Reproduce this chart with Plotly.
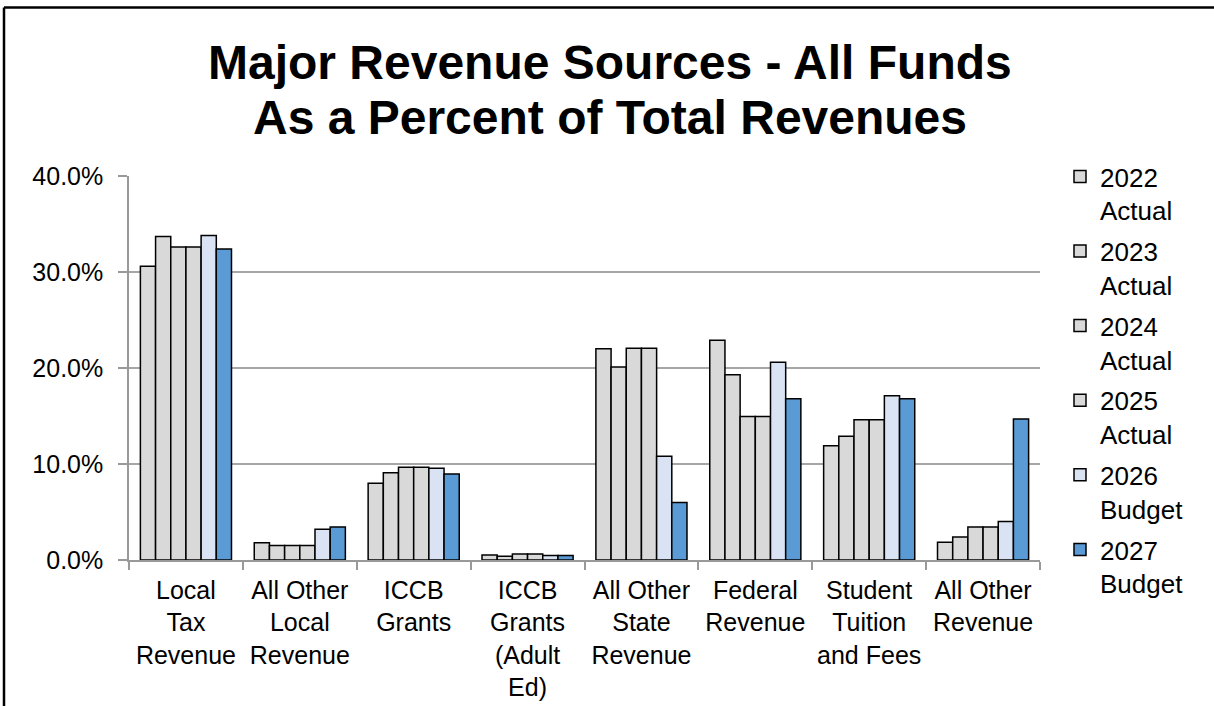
import plotly.graph_objects as go

categories = ["Local<br>Tax<br>Revenue", "All Other<br>Local<br>Revenue", "ICCB<br>Grants",
              "ICCB<br>Grants<br>(Adult<br>Ed)", "All Other<br>State<br>Revenue", "Federal<br>Revenue",
              "Student<br>Tuition<br>and Fees", "All Other<br>Revenue"]

series_names = ["2022<br>Actual", "2023<br>Actual", "2024<br>Actual", "2025<br>Actual",
                "2026<br>Budget", "2027<br>Budget"]

v2022 = [30.6, 1.8, 8.0, 0.52, 22.0, 22.9, 11.9, 1.85]
v2023 = [33.7, 1.5, 9.1, 0.4, 20.1, 19.3, 12.9, 2.4]
v2024 = [32.6, 1.5, 9.65, 0.62, 22.05, 14.95, 14.6, 3.45]
v2025 = [32.6, 1.5, 9.65, 0.62, 22.05, 14.95, 14.6, 3.45]
v2026 = [33.8, 3.2, 9.55, 0.48, 10.8, 20.6, 17.1, 4.0]
v2027 = [32.4, 3.45, 8.95, 0.48, 6.0, 16.8, 16.8, 14.7]

series_values = [v2022, v2023, v2024, v2025, v2026, v2027]
colors = ["#D9D9D9", "#D9D9D9", "#D9D9D9", "#D9D9D9", "#DAE3F3", "#5B9BD5"]

W, H = 1214, 706
L, R, T, B = 129, 1040, 176, 560

fig = go.Figure()
for i, (name, vals) in enumerate(zip(series_names, series_values)):
    fig.add_trace(go.Bar(
        x=categories, y=vals, name=name, legendgroup=str(i),
        marker=dict(color=colors[i], line=dict(color="black", width=1.5)),
    ))

def px_x(p):
    return (p - L) / (R - L)

def px_y(p):
    return (B - p) / (B - T)

font = "Arial, Liberation Sans, sans-serif"

fig.update_layout(
    width=W, height=H,
    margin=dict(l=L, r=W - R, t=T, b=H - B, autoexpand=False),
    paper_bgcolor="white", plot_bgcolor="white",
    barmode="group", bargap=0.2, bargroupgap=0,
    font=dict(family=font, size=25, color="black"),
    showlegend=True,
    legend=dict(x=px_x(1060), y=px_y(153), xanchor="left", yanchor="top",
                font=dict(size=26), valign="top", tracegroupgap=4,
                itemwidth=30, bgcolor="rgba(0,0,0,0)", maxheight=620),
    xaxis=dict(showline=True, linecolor="#999999", linewidth=1.5,
               ticks="outside", tickson="boundaries", ticklen=8, tickcolor="#999999",
               tickwidth=1.5, tickfont=dict(size=25), tickangle=0, showgrid=False,
               ticklabelstandoff=7),
    yaxis=dict(range=[0, 40], dtick=10, tickformat=".1f", ticksuffix="%",
               showline=True, linecolor="#999999", linewidth=1.5,
               ticks="outside", ticklen=9, tickcolor="#999999", tickwidth=1.5,
               showgrid=True, gridcolor="#A6A6A6", gridwidth=1.5,
               zeroline=False, tickfont=dict(size=25), ticklabelstandoff=10),
)

fig.add_annotation(text="<b>Major Revenue Sources - All Funds</b>", xref="paper", yref="paper",
                   x=px_x(610), y=px_y(62), xanchor="center", yanchor="middle",
                   showarrow=False, font=dict(size=48, family=font))
fig.add_annotation(text="<b>As a Percent of Total Revenues</b>", xref="paper", yref="paper",
                   x=px_x(610), y=px_y(117), xanchor="center", yanchor="middle",
                   showarrow=False, font=dict(size=48, family=font))

fig.add_shape(type="line", xref="paper", yref="paper", x0=px_x(4), x1=px_x(4),
              y0=px_y(7.5), y1=px_y(720), line=dict(color="black", width=2.5))
fig.add_shape(type="line", xref="paper", yref="paper", x0=px_x(4), x1=px_x(1230),
              y0=px_y(7.5), y1=px_y(7.5), line=dict(color="black", width=2.5))

fig.write_html("out.html", config={"displayModeBar": False},
               post_script="document.body.style.margin='0';")
